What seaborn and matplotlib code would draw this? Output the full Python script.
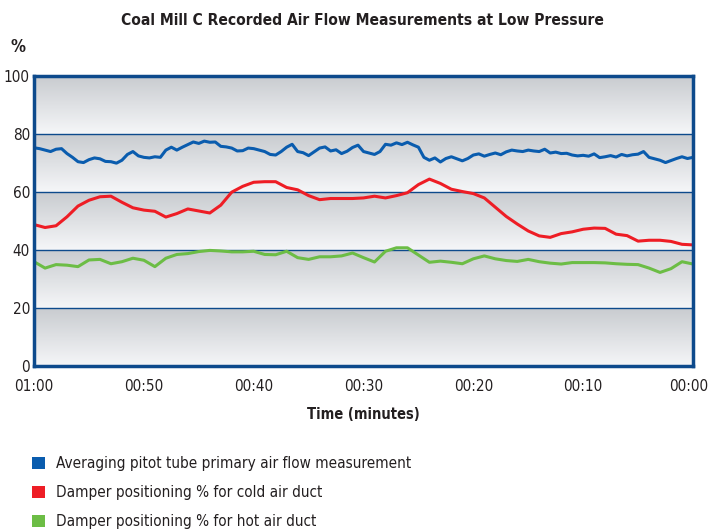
import numpy as np
import pandas as pd
import matplotlib
matplotlib.use("Agg")
import matplotlib.pyplot as plt
import matplotlib.transforms as mtransforms
from matplotlib.patches import Patch
from matplotlib.colors import LinearSegmentedColormap
import seaborn as sns

# ── data (minutes before 00:00) ───────────────────────────────────────────
pitot = [75.3, 75.0, 74.5, 74.0, 74.8, 75.0, 73.3, 72.0, 70.5, 70.2,
         71.2, 71.8, 71.5, 70.6, 70.5, 70.0, 71.0, 73.0, 74.0, 72.5,
         72.0, 71.8, 72.2, 72.0, 74.5, 75.5, 74.5, 75.5, 76.4, 77.3,
         76.8,
         77.6, 77.2, 77.3, 75.8, 75.6, 75.2, 74.2, 74.3, 75.2, 75.0,
         74.5, 74.0, 73.0, 72.8, 74.0, 75.5, 76.5, 74.0, 73.6, 72.6,
         73.9, 75.2, 75.6, 74.2, 74.6, 73.3, 74.1, 75.4, 76.2,
         74.0, 73.5, 73.0, 74.0, 76.5, 76.2, 77.0, 76.4, 77.2, 76.3,
         75.5, 72.0, 71.0, 71.8, 70.4, 71.6, 72.2, 71.5, 70.8, 71.6,
         72.8, 73.2, 72.4, 73.0, 73.5, 72.9, 73.9, 74.5, 74.2, 74.0,
         74.5,
         74.2, 74.0, 74.8, 73.5, 73.8, 73.3, 73.4, 72.8, 72.5, 72.7,
         72.4, 73.2, 71.9, 72.2, 72.6, 72.1, 73.0, 72.5, 72.9, 73.1,
         74.0, 72.0, 71.5, 71.0, 70.2, 70.9, 71.6, 72.2, 71.6, 72.0]

cold_damper = [48.8, 47.8, 48.4, 51.5, 55.2, 57.2, 58.4, 58.6, 56.5, 54.6,
               53.8, 53.4, 51.4, 52.6, 54.2, 53.5, 52.8, 55.5, 60.0, 62.0,
               63.4, 63.6, 63.6, 61.6, 60.8, 58.8, 57.4, 57.8, 57.8, 57.8,
               58.0, 58.6, 58.0, 58.8, 59.8, 62.6, 64.5, 63.0, 61.0, 60.2,
               59.5, 58.0, 54.8, 51.6, 49.0, 46.6, 44.9, 44.4, 45.7, 46.3,
               47.2, 47.6, 47.5, 45.5, 45.0, 43.1, 43.4, 43.4, 43.0, 42.0,
               41.8]

hot_damper = [36.0, 33.8, 35.0, 34.8, 34.3, 36.6, 36.8, 35.3, 36.0, 37.2,
              36.5, 34.3, 37.2, 38.5, 38.8, 39.5, 39.9, 39.7, 39.4, 39.4,
              39.6, 38.5, 38.4, 39.6, 37.4, 36.8, 37.7, 37.7, 38.0, 39.0,
              37.4, 35.9, 39.6, 40.8, 40.8, 38.3, 35.8, 36.2, 35.8, 35.3,
              37.0, 38.0, 37.0, 36.4, 36.1, 36.8, 36.0, 35.5, 35.2, 35.7,
              35.7, 35.7, 35.6, 35.3, 35.1, 35.0, 33.8, 32.3, 33.6, 36.0,
              35.2]

series_names = ["Averaging pitot tube primary air flow measurement",
                "Damper positioning % for cold air duct",
                "Damper positioning % for hot air duct"]
series_colors = ["#0a5cae", "#ee1d25", "#6cbd45"]
x_ticks = [60, 50, 40, 30, 20, 10, 0]
x_ticklabels = ["01:00", "00:50", "00:40", "00:30", "00:20", "00:10", "00:00"]
y_ticks = [0, 20, 40, 60, 80, 100]

frames = []
for name, vals in zip(series_names, [pitot, cold_damper, hot_damper]):
    frames.append(pd.DataFrame({"minutes": np.linspace(60, 0, len(vals)),
                                "value": vals, "series": name}))
df = pd.concat(frames, ignore_index=True)

# ── style ──────────────────────────────────────────────────────────────────
sns.set_style("white")
plt.rcParams["font.family"] = ["DejaVu Sans"]
plt.rcParams["font.stretch"] = "condensed"
navy = "#0d4a8c"
text_col = "#231f20"

fig = plt.figure(figsize=(7.1, 5.29), dpi=100)
ax = fig.add_axes([0.048, 0.308, 0.928, 0.548])

# banded gradient background: darker at top of each 20% band
band_cmap = LinearSegmentedColormap.from_list("band", ["#f5f6f8", "#c9ccd0"])
grad = np.tile(np.linspace(0, 1, 60), 5)[:, None]
ax.imshow(grad, cmap=band_cmap, aspect="auto", origin="lower",
          extent=[60, 0, 0, 100], zorder=0, interpolation="bilinear")

sns.lineplot(data=df, x="minutes", y="value", hue="series",
             palette=dict(zip(series_names, series_colors)),
             linewidth=2.2, legend=False, ax=ax, zorder=3)

for y in [20, 40, 60, 80]:
    ax.axhline(y, color=navy, linewidth=1.0, zorder=2)

ax.set_xlim(60, 0)
ax.set_ylim(0, 100)
ax.set_xticks(x_ticks)
ax.set_xticklabels(x_ticklabels, fontsize=11, color=text_col)
ax.set_yticks(y_ticks)
ax.set_yticklabels([str(v) for v in y_ticks], fontsize=11, color=text_col)
ax.tick_params(axis="x", direction="in", length=9, width=1.5, color=navy, pad=9)
ax.tick_params(axis="y", length=0, pad=3)
# keep the last time label inside the canvas
last = ax.get_xticklabels()[-1]
last.set_transform(last.get_transform() +
                   mtransforms.ScaledTranslation(-4 / 100, 0, fig.dpi_scale_trans))
for side in ["left", "right", "top", "bottom"]:
    ax.spines[side].set_color(navy)
    ax.spines[side].set_linewidth(2.5)
    ax.spines[side].set_zorder(5)
ax.set_xlabel("Time (minutes)", fontsize=10.5, fontweight="bold",
              color=text_col, labelpad=10)
ax.set_ylabel("")

fig.text(0.51, 0.962, "Coal Mill C Recorded Air Flow Measurements at Low Pressure",
         ha="center", va="center", fontsize=11.2, fontweight="bold", color=text_col)
fig.text(0.026, 0.911, "%", ha="center", va="center", fontsize=12,
         fontweight="bold", color=text_col)

handles = [Patch(facecolor=c, edgecolor="none") for c in series_colors]
fig.legend(handles, series_names, loc="upper left", bbox_to_anchor=(0.035, 0.152),
           frameon=False, fontsize=11, handlelength=0.8, handleheight=0.8,
           handletextpad=0.72, labelspacing=0.92, borderpad=0, labelcolor=text_col)

fig.savefig("out.png", dpi=100)
